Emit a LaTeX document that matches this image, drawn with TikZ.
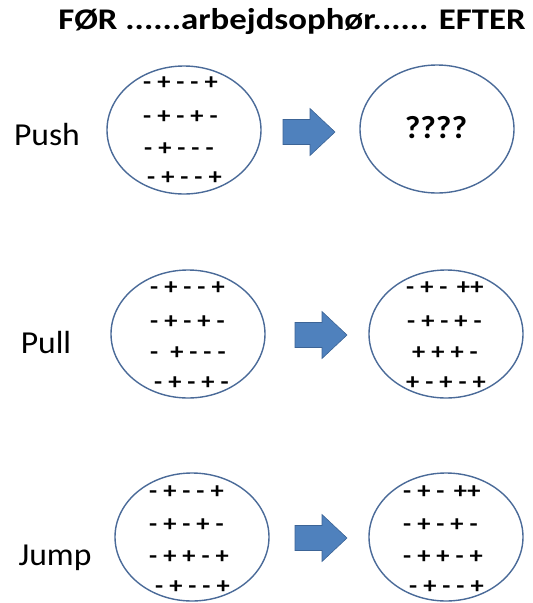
\documentclass[tikz,border=0pt]{standalone}
\usepackage{fontspec}
\usepackage{graphicx}
\setmainfont{Carlito}
\usetikzlibrary{shapes.geometric}
\definecolor{ringcol}{HTML}{4A6A98}
\definecolor{arrfill}{HTML}{4F81BD}
\definecolor{arredge}{HTML}{3C6496}
\newcommand{\wide}[2]{\scalebox{#1}[1]{#2}}
\tikzset{
  ring/.style={draw=ringcol, line width=1.4pt, ellipse, inner sep=0pt, minimum width=154pt, minimum height=128pt},
  row/.style={anchor=west, inner sep=0pt, font=\fontsize{23}{23}\selectfont\bfseries},
  lbl/.style={inner sep=0pt, font=\fontsize{32}{32}\selectfont},
  blockarrow/.style={fill=arrfill, draw=arredge, line width=0.6pt},
}
\newcommand{\myarrow}[3]{% name, x of tail, y centre
  \coordinate (#1) at (#2,#3);
  \fill[blockarrow] ([yshift=-12.5pt]#1) -- ++(27pt,0) -- ++(0,-11pt) -- ++(25pt,23.5pt) -- ++(-25pt,23.5pt) -- ++(0,-11pt) -- ++(-27pt,0) -- cycle;
}
\begin{document}
\begin{tikzpicture}[x=1pt,y=-1pt]
\useasboundingbox (0,0) rectangle (533,603);
\node[inner sep=0pt, font=\fontsize{30}{30}\selectfont\bfseries] (title) at (292,22) {\wide{1.16}{FØR ......arbejdsophør...... EFTER}};
% labels
\node[lbl] (push) at (47,135) {\wide{1.05}{Push}};
\node[lbl] (pull) at (46,343) {\wide{1.05}{Pull}};
\node[lbl] (jump) at (55,558) {\wide{1.05}{Jump}};
% ellipses
\node[ring] (e1) at (184,130) {};
\node[ring] (e2) at (437,129) {};
\node[ring] (e3) at (188,334) {};
\node[ring] (e4) at (446,334) {};
\node[ring] (e5) at (192,537) {};
\node[ring] (e6) at (446,537) {};
% arrows
\myarrow{a1}{283}{132}
\myarrow{a2}{295}{335}
\myarrow{a3}{295}{538}
% ????
\node[inner sep=0pt, font=\fontsize{32}{32}\selectfont\bfseries] (q) at (436,128) {\wide{1.05}{????}};
% Push left rows
\node[row] (r11) at (143,83) {\wide{1.15}{- + - - +}};
\node[row] (r12) at (143,117) {\wide{1.15}{- + - + -}};
\node[row] (r13) at (144,149) {\wide{1.15}{- + - - -}};
\node[row] (r14) at (147,178) {\wide{1.15}{- + - - +}};
% Pull left
\node[row] (r31) at (150,288) {\wide{1.15}{- + - - +}};
\node[row] (r32) at (150,322) {\wide{1.15}{- + - + -}};
\node[row] (r33) at (150,353) {\wide{1.15}{-\ \ + - - -}};
\node[row] (r34) at (154,383) {\wide{1.15}{- + - + -}};
% Pull right
\node[row] (r41) at (406,288) {\wide{1.15}{- + - \hspace{3pt}++}};
\node[row] (r42) at (407,322) {\wide{1.15}{- + - + -}};
\node[row] (r43) at (412,353) {\wide{1.15}{+ + + -}};
\node[row] (r44) at (406,383) {\wide{1.15}{+ - + - +}};
% Jump left
\node[row] (r51) at (149,492) {\wide{1.15}{- + - - +}};
\node[row] (r52) at (149,525) {\wide{1.15}{- + - + -}};
\node[row] (r53) at (149,557) {\wide{1.15}{- + + - +}};
\node[row] (r54) at (155,587) {\wide{1.15}{- + - - +}};
% Jump right
\node[row] (r61) at (403,492) {\wide{1.15}{- + - \hspace{3pt}++}};
\node[row] (r62) at (403,525) {\wide{1.15}{- + - + -}};
\node[row] (r63) at (403,557) {\wide{1.15}{- + + - +}};
\node[row] (r64) at (409,587) {\wide{1.15}{- + - - +}};
\end{tikzpicture}
\end{document}
